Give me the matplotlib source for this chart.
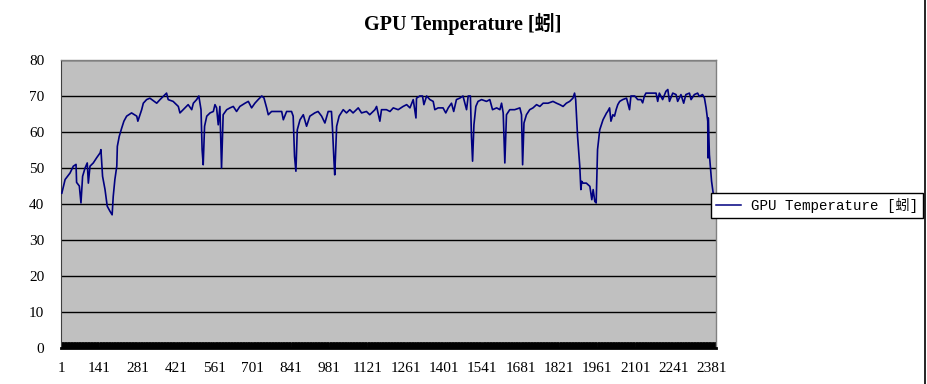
import matplotlib
matplotlib.use("Agg")
import matplotlib.pyplot as plt
from matplotlib.ticker import FixedLocator, MultipleLocator
from matplotlib.lines import Line2D

# ---- data (sample index, temperature) ----
sample_idx = [
    4, 16, 34, 46, 56, 58, 68, 74, 80, 89, 97, 101, 107, 119, 131, 144, 147, 153,
    162, 170, 180, 188, 192, 198, 205, 207, 214, 223, 231, 241, 259, 278, 282, 296,
    302, 314, 326, 351, 363, 387, 393, 411, 430, 436, 454, 466, 479, 485, 497, 505,
    513, 517, 521, 526, 534, 546, 558, 564, 570, 576, 582, 588, 594, 607, 619, 631,
    643, 655, 674, 686, 698, 710, 722, 735, 743, 753, 759, 771, 789, 808, 814, 826,
    844, 850, 855, 860, 865, 875,
    887, 899, 911, 929, 941, 954, 966, 978, 990, 994, 999, 1002, 1009, 1018, 1033,
    1045, 1057, 1069, 1088, 1100, 1118, 1130, 1149, 1155, 1167, 1173, 1191, 1204,
    1216, 1234, 1252, 1265, 1277, 1289, 1299, 1301, 1313, 1323, 1328, 1338, 1350,
    1362, 1368, 1380, 1398, 1408, 1417, 1429, 1437, 1447, 1459, 1471, 1484, 1490,
    1498, 1502, 1506, 1511, 1518, 1526, 1539, 1557, 1569, 1579, 1594, 1606, 1612,
    1618, 1624, 1630, 1642, 1660, 1679, 1685, 1689, 1694, 1703, 1715, 1727, 1740,
    1752, 1764, 1782, 1800, 1813, 1825, 1837, 1849, 1861, 1873, 1879, 1883, 1890,
    1898, 1902, 1905, 1910, 1922, 1935, 1942, 1947, 1953, 1958, 1963, 1971,
    1983, 1996, 2000, 2007, 2012, 2019, 2025, 2031, 2037, 2044, 2055, 2069, 2080,
    2085, 2099, 2110, 2122, 2128, 2134, 2140, 2159, 2177, 2183, 2189, 2201, 2213,
    2220, 2226, 2238, 2250, 2256, 2268, 2278, 2286, 2299, 2305, 2317, 2329, 2335,
    2347, 2354, 2360, 2366, 2367, 2368, 2372, 2376, 2380, 2385, 2389,
]
temp_c = [
    43, 46.8, 48.6, 50.5, 51, 46, 45, 40.3, 47.7, 50, 51.4, 45.8, 50.5, 51.4, 52.8,
    54.2, 55.1, 47.7, 44, 39.4, 38, 37, 42.1, 46.8, 50.5, 56, 58.8, 61.1, 63, 64.4,
    65.3, 64.4, 63, 66.2, 68, 69, 69.4, 68, 69, 70.8, 69, 68.5, 67.1, 65.3, 66.7,
    67.6, 66.2, 68, 69, 70, 66.2, 55.1, 50.9, 61.6, 64.4, 65.3, 65.7, 67.6, 66.7,
    62, 67.1, 50, 64.8, 66.2, 66.7, 67.1, 65.7, 67.1, 68, 68.5, 66.7, 68, 69, 70,
    69.5, 66.7, 64.8, 65.7, 65.7, 65.7, 63.4, 65.7, 65.7, 64.4, 53.2, 49.1, 60.6,
    63.4,
    64.8, 61.6, 64.4, 65.3, 65.7, 64.4, 62.5, 65.7, 65.7, 60.6, 52.3, 48.1, 61.6,
    64.4, 66.2, 65.3, 66.2, 65.3, 66.7, 65.3, 65.7, 64.8, 66.2, 67.1, 63, 66.2,
    66.2, 65.7, 66.7, 66.2, 67.1, 67.6, 66.7, 69, 63.9, 69.4, 70, 70, 67.6, 70, 69,
    68.5, 66.2, 66.7, 66.7, 65.3, 66.7, 68, 65.7, 69, 69.4, 70, 66.2, 70, 70, 58.8,
    51.9, 62, 67.1, 68.5, 69, 68.5, 69, 66.2, 66.7, 66.2, 68, 65.3, 51.4, 64.8,
    66.2, 66.2, 66.7, 64.8, 50.9, 62.5, 64.8, 66.2, 66.7, 67.6, 67.1, 68, 68, 68.5,
    68, 67.6, 67.1, 68, 68.5, 69.4, 70.8, 69, 58.8, 50.5, 44, 46.3, 45.8, 45.8,
    44.9, 41.2, 44, 40.7, 40.3, 55.1, 60.6,
    63.4, 65.3, 65.7, 66.7, 63, 64.8, 64.4, 66.2, 67.6, 68.5, 69, 69.4, 66.2, 70,
    70, 69, 69, 68.1, 69.9, 70.8, 70.8, 70.8, 68.5, 70.8, 69, 71.3, 71.8, 68.5,
    70.8, 70.4, 68.5, 70.4, 68, 70.4, 70.8, 69, 70.4, 70.8, 69.9, 70.4, 69.4, 66.7,
    63, 52.8, 63.9, 53.7, 50, 46.3, 43.5, 41,
]
series_name = "GPU Temperature [蚓]"
x_tick_labels = [1 + 140 * k for k in range(18)]
y_ticks = [0, 10, 20, 30, 40, 50, 60, 70, 80]

CJK = "Noto Sans CJK SC"

fig = plt.figure(figsize=(9.28, 3.84), dpi=100)
fig.patch.set_facecolor("white")
ax = fig.add_axes([61 / 928, 1 - 348 / 384, (716.5 - 61) / 928, 288 / 384])
ax.set_facecolor("#C0C0C0")

ax.plot(sample_idx, temp_c, color="#000080", linewidth=1.2, zorder=3)

ax.set_xlim(1, 2398)
ax.set_ylim(0, 80)

# grid
ax.set_yticks(y_ticks)
ax.yaxis.grid(True, color="black", linewidth=1.0)
ax.set_axisbelow(True)

ax.xaxis.set_major_locator(FixedLocator(x_tick_labels))
ax.set_xticklabels([str(v) for v in x_tick_labels])
ax.xaxis.set_minor_locator(MultipleLocator(1))

ax.tick_params(axis="y", length=0, pad=12, labelsize=11)
ax.tick_params(axis="x", which="major", length=0, pad=10, labelsize=11)
ax.tick_params(axis="x", which="minor", length=4, width=0.6, direction="in",
               color="black")
for lbl in ax.get_xticklabels() + ax.get_yticklabels():
    lbl.set_family(["Liberation Serif", CJK])

for s in ("top", "right"):
    ax.spines[s].set_color("#808080")
    ax.spines[s].set_linewidth(1.0)
ax.spines["left"].set_color("#404040")
ax.spines["bottom"].set_color("black")
ax.spines["bottom"].set_linewidth(2.0)

# title
fig.text(463 / 928, 1 - 24 / 384, series_name, ha="center", va="center",
         fontsize=14.5, fontweight="bold",
         family=["Liberation Serif", CJK])

# legend
handle = Line2D([], [], color="#000080", linewidth=1.1)
leg = fig.legend([handle], [series_name], loc="center left",
                 bbox_to_anchor=(711 / 928, 1 - 205.5 / 384),
                 frameon=True, fancybox=False, framealpha=1, edgecolor="black",
                 handlelength=1.8, handletextpad=0.7, borderpad=0.35,
                 borderaxespad=0,
                 prop={"family": ["Liberation Mono", CJK], "size": 10.2})
leg.get_frame().set_linewidth(1.0)

# right border of the chart area
fig.add_artist(Line2D([925 / 928, 925 / 928], [0, 1], color="black",
                      linewidth=1.2, transform=fig.transFigure))

fig.savefig("out.png", dpi=100)
